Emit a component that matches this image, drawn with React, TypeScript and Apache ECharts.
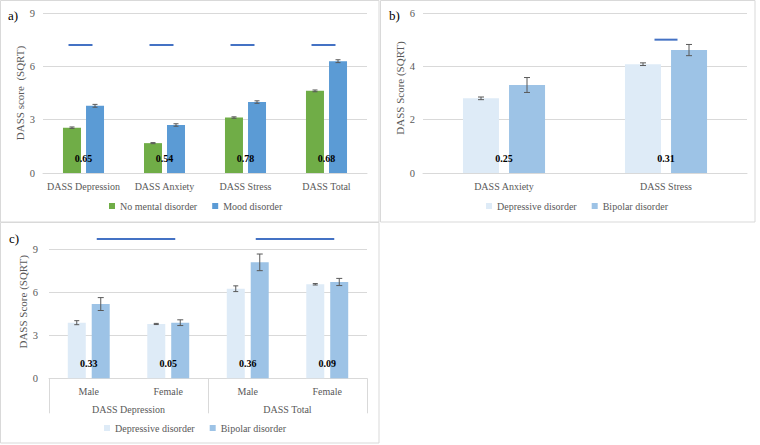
import React, { useEffect, useRef } from "react";
import * as echarts from "echarts";

// Panel a
const catsA = ["DASS Depression", "DASS Anxiety", "DASS Stress", "DASS Total"];
const noDisorder = [2.55, 1.68, 3.12, 4.62];
const noDisorderErr = [0.04, 0.03, 0.04, 0.05];
const moodDisorder = [3.78, 2.7, 3.99, 6.29];
const moodDisorderErr = [0.08, 0.07, 0.07, 0.08];
const pA = [0.65, 0.54, 0.78, 0.68];
const sigA = [7.2, 7.2, 7.2, 7.2];

// Panel b
const catsB = ["DASS Anxiety", "DASS Stress"];
const depB = [2.8, 4.08];
const depBErr = [0.05, 0.05];
const bipB = [3.3, 4.61];
const bipBErr = [0.28, 0.21];
const pB = [0.25, 0.31];
const sigB = [null, 5.0];

// Panel c
const catsC = ["Male", "Female", "Male", "Female"];
const groupsC = ["DASS Depression", "DASS Total"];
const depC = [3.88, 3.79, 6.25, 6.56];
const depCErr = [0.14, 0.04, 0.2, 0.05];
const bipC = [5.18, 3.88, 8.09, 6.72];
const bipCErr = [0.45, 0.2, 0.58, 0.25];
const pC = [0.33, 0.05, 0.36, 0.09];
const sigC = [
  [0, 1, 9.72],
  [2, 3, 9.72],
];

const FONT = "Liberation Serif";
const GRAY = "#595959";
const GRID = "#d9d9d9";
const GREEN = "#70AD47";
const BLUE = "#5B9BD5";
const LIGHT = "#DEEBF7";
const MID = "#9DC3E6";
const SIG = "#4472C4";

function errSeries(axis: number, values: number[], errs: number[], offset: number, cap: number) {
  return {
    type: "custom",
    xAxisIndex: axis,
    yAxisIndex: axis,
    silent: true,
    z: 5,
    data: values.map((v, i) => [i, v, errs[i]]),
    encode: { x: 0, y: 1 },
    renderItem: (params: any, api: any) => {
      const i = api.value(0);
      const v = api.value(1);
      const e = api.value(2);
      const top = api.coord([i, v + e]);
      const bot = api.coord([i, v - e]);
      const x = top[0] + offset;
      const st = { stroke: GRAY, lineWidth: 1 };
      return {
        type: "group",
        children: [
          { type: "line", shape: { x1: x, y1: top[1], x2: x, y2: bot[1] }, style: st },
          { type: "line", shape: { x1: x - cap, y1: top[1], x2: x + cap, y2: top[1] }, style: st },
          { type: "line", shape: { x1: x - cap, y1: bot[1], x2: x + cap, y2: bot[1] }, style: st },
        ],
      };
    },
  };
}

function pSeries(axis: number, ps: number[]) {
  return {
    type: "custom",
    xAxisIndex: axis,
    yAxisIndex: axis,
    silent: true,
    z: 6,
    data: ps.map((p, i) => [i, 0, p]),
    encode: { x: 0, y: 1 },
    renderItem: (params: any, api: any) => {
      const pt = api.coord([api.value(0), 0]);
      return {
        type: "text",
        x: pt[0],
        y: pt[1] - 14.5,
        style: {
          text: api.value(2).toFixed(2),
          fill: "#000",
          fontFamily: FONT,
          fontSize: 10,
          fontWeight: "bold",
          align: "center",
          verticalAlign: "middle",
        },
      };
    },
  };
}

function sigSeries(axis: number, levels: (number | null)[], dx: number, half: number) {
  return {
    type: "custom",
    xAxisIndex: axis,
    yAxisIndex: axis,
    silent: true,
    z: 6,
    data: levels
      .map((l, i) => (l == null ? null : [i, l]))
      .filter((d) => d != null),
    encode: { x: 0, y: 1 },
    renderItem: (params: any, api: any) => {
      const pt = api.coord([api.value(0), api.value(1)]);
      const cx = pt[0] + dx;
      return {
        type: "line",
        shape: { x1: cx - half, y1: pt[1], x2: cx + half, y2: pt[1] },
        style: { stroke: SIG, lineWidth: 2 },
      };
    },
  };
}

function sigSpanSeries(axis: number, spans: number[][]) {
  return {
    type: "custom",
    xAxisIndex: axis,
    yAxisIndex: axis,
    silent: true,
    z: 6,
    data: spans,
    encode: { x: [0, 1], y: 2 },
    renderItem: (params: any, api: any) => {
      const p0 = api.coord([api.value(0), api.value(2)]);
      const p1 = api.coord([api.value(1), api.value(2)]);
      return {
        type: "line",
        shape: { x1: p0[0] + 8, y1: p0[1], x2: p1[0] + 7, y2: p1[1] },
        style: { stroke: SIG, lineWidth: 2 },
      };
    },
  };
}

function yAxis(grid: number, max: number, interval: number, name: string, margin: number, nameGap: number, shift: number) {
  return {
    type: "value",
    gridIndex: grid,
    min: 0,
    max,
    interval,
    axisLine: { show: false },
    axisTick: { show: false },
    axisLabel: { color: GRAY, fontSize: 10.5, fontFamily: FONT, margin },
    splitLine: { lineStyle: { color: GRID, width: 1 } },
    name,
    nameLocation: "middle",
    nameGap,
    nameTextStyle: { color: GRAY, fontSize: 11, fontFamily: FONT, padding: [0, 0, 0, shift] },
  };
}

function xAxis(grid: number, data: string[]) {
  return {
    type: "category",
    gridIndex: grid,
    data,
    axisLine: { lineStyle: { color: GRID, width: 1 } },
    axisTick: { show: false },
    axisLabel: { color: GRAY, fontSize: 10, fontFamily: FONT, margin: 8, interval: 0 },
  };
}

const legendBase = {
  itemWidth: 6,
  itemHeight: 6,
  itemGap: 15,
  icon: "rect",
  padding: 0,
  textStyle: { color: GRAY, fontSize: 10, fontFamily: FONT },
};

export default function App() {
  const ref = useRef<HTMLDivElement>(null);
  useEffect(() => {
    if (!ref.current) return;
    const chart = echarts.init(ref.current, null, { renderer: "svg" });
    const option: any = {
      animation: false,
      backgroundColor: "#fff",
      textStyle: { fontFamily: FONT },
      grid: [
        { left: 43, top: 13, width: 324, height: 160 },
        { left: 423, top: 13, width: 324, height: 160 },
        { left: 49, top: 249.3, width: 318, height: 129 },
      ],
      xAxis: [
        xAxis(0, catsA),
        xAxis(1, catsB),
        xAxis(2, catsC),
        {
          type: "category",
          gridIndex: 2,
          position: "bottom",
          data: groupsC,
          axisLine: { show: false },
          axisTick: { show: true, length: 35, lineStyle: { color: GRID } },
          axisLabel: { color: GRAY, fontSize: 10, fontFamily: FONT, margin: 26, interval: 0 },
        },
      ],
      yAxis: [
        yAxis(0, 9, 3, "DASS score  (SQRT)", 8, 16, 0),
        yAxis(1, 6, 2, "DASS Score (SQRT)", 8, 16, 10),
        yAxis(2, 9, 3, "DASS Score (SQRT)", 11, 21, 24),
      ],
      legend: [
        { ...legendBase, data: ["No mental disorder", "Mood disorder"], left: 109, top: 201 },
        { ...legendBase, data: ["Depressive disorder", "Bipolar disorder"], left: 486, top: 201 },
        { ...legendBase, data: ["Depressive disorder", "Bipolar disorder"], left: 104, top: 423 },
      ],
      graphic: [
        { type: "rect", shape: { x: 0.5, y: 0.5, width: 378.5, height: 221.5 }, style: { fill: "none", stroke: GRID, lineWidth: 1 } },
        { type: "rect", shape: { x: 380.5, y: 0.5, width: 374.5, height: 221.5 }, style: { fill: "none", stroke: GRID, lineWidth: 1 } },
        { type: "rect", shape: { x: 0.5, y: 222.5, width: 378.5, height: 220.5 }, style: { fill: "none", stroke: GRID, lineWidth: 1 } },
        { type: "text", x: 8, y: 15, style: { text: "a)", fill: "#000", fontFamily: FONT, fontSize: 13, verticalAlign: "middle" } },
        { type: "text", x: 389, y: 15, style: { text: "b)", fill: "#000", fontFamily: FONT, fontSize: 13, verticalAlign: "middle" } },
        { type: "text", x: 9, y: 238, style: { text: "c)", fill: "#000", fontFamily: FONT, fontSize: 13, verticalAlign: "middle" } },
      ],
      series: [
        { name: "No mental disorder", type: "bar", xAxisIndex: 0, yAxisIndex: 0, barWidth: 18, barGap: "28%", itemStyle: { color: GREEN }, data: noDisorder },
        { name: "Mood disorder", type: "bar", xAxisIndex: 0, yAxisIndex: 0, barWidth: 18, barGap: "28%", itemStyle: { color: BLUE }, data: moodDisorder },
        errSeries(0, noDisorder, noDisorderErr, -11.5, 2.5),
        errSeries(0, moodDisorder, moodDisorderErr, 11.5, 2.5),
        pSeries(0, pA),
        sigSeries(0, sigA, -3, 12),

        { name: "Depressive disorder", type: "bar", xAxisIndex: 1, yAxisIndex: 1, barWidth: 36, barGap: "28%", itemStyle: { color: LIGHT }, data: depB },
        { name: "Bipolar disorder", type: "bar", xAxisIndex: 1, yAxisIndex: 1, barWidth: 36, barGap: "28%", itemStyle: { color: MID }, data: bipB },
        errSeries(1, depB, depBErr, -23, 3),
        errSeries(1, bipB, bipBErr, 23, 3),
        pSeries(1, pB),
        sigSeries(1, sigB, 0, 11.5),

        { name: "Depressive disorder", type: "bar", xAxisIndex: 2, yAxisIndex: 2, barWidth: 18, barGap: "33%", itemStyle: { color: LIGHT }, data: depC },
        { name: "Bipolar disorder", type: "bar", xAxisIndex: 2, yAxisIndex: 2, barWidth: 18, barGap: "33%", itemStyle: { color: MID }, data: bipC },
        errSeries(2, depC, depCErr, -12, 2.5),
        errSeries(2, bipC, bipCErr, 12, 3),
        pSeries(2, pC),
        sigSpanSeries(2, sigC),
      ],
    };
    chart.setOption(option);
    return () => chart.dispose();
  }, []);
  return <div ref={ref} style={{ position: "absolute", left: 0, top: 0, width: 760, height: 445 }} />;
}
